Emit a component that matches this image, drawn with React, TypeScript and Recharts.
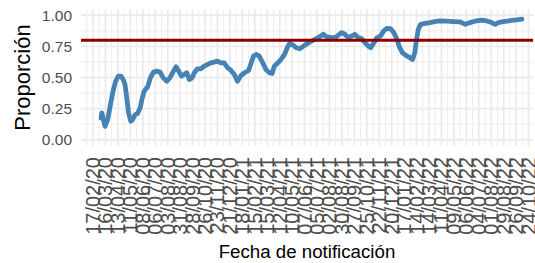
import { LineChart, Line, XAxis, YAxis, CartesianGrid, ReferenceLine } from 'recharts'

// semanas notificadas y proporción observada
const fechas = [
  '2020-03-06', '2020-03-08', '2020-03-15', '2020-03-21', '2020-03-28', '2020-04-02', '2020-04-08', '2020-04-14',
  '2020-04-20', '2020-04-25', '2020-04-29', '2020-05-03', '2020-05-07', '2020-05-12', '2020-05-16', '2020-05-22',
  '2020-05-27', '2020-06-02', '2020-06-06', '2020-06-11', '2020-06-19', '2020-06-25', '2020-07-02', '2020-07-09',
  '2020-07-17', '2020-07-24', '2020-08-01', '2020-08-08', '2020-08-14', '2020-08-22', '2020-08-28', '2020-09-03',
  '2020-09-09', '2020-09-15', '2020-09-21', '2020-09-27', '2020-10-02', '2020-10-09', '2020-10-17', '2020-10-24',
  '2020-11-01', '2020-11-08', '2020-11-16', '2020-11-23', '2020-12-01', '2020-12-08', '2020-12-16', '2020-12-23',
  '2020-12-31', '2021-01-07', '2021-01-15', '2021-01-23', '2021-02-01', '2021-02-07', '2021-02-12', '2021-02-19',
  '2021-02-25', '2021-03-05', '2021-03-12', '2021-03-20', '2021-03-26', '2021-03-31', '2021-04-08', '2021-04-15',
  '2021-04-23', '2021-04-30', '2021-05-05', '2021-05-13', '2021-05-19', '2021-05-27', '2021-06-07', '2021-06-19',
  '2021-06-30', '2021-07-11', '2021-07-19', '2021-07-26', '2021-08-07', '2021-08-14', '2021-08-22', '2021-08-29',
  '2021-09-06', '2021-09-13', '2021-09-21', '2021-09-28', '2021-10-06', '2021-10-13', '2021-10-21', '2021-10-28',
  '2021-11-03', '2021-11-10', '2021-11-17', '2021-11-25', '2021-12-02', '2021-12-10', '2021-12-17', '2021-12-25',
  '2022-01-01', '2022-01-07', '2022-01-13', '2022-01-21', '2022-01-30', '2022-02-05', '2022-02-10', '2022-02-14',
  '2022-02-18', '2022-02-23', '2022-03-05', '2022-03-16', '2022-03-27', '2022-04-08', '2022-04-23', '2022-05-08',
  '2022-05-23', '2022-06-04', '2022-06-14', '2022-06-25', '2022-07-10', '2022-07-22', '2022-08-02', '2022-08-10',
  '2022-08-17', '2022-08-28', '2022-09-09', '2022-09-20', '2022-09-27', '2022-10-09',
]

const proporcion = [
  0.175, 0.215, 0.108, 0.161, 0.296, 0.39, 0.47, 0.511,
  0.511, 0.484, 0.444, 0.336, 0.215, 0.148, 0.161, 0.202,
  0.21, 0.255, 0.323, 0.39, 0.425, 0.497, 0.543, 0.551,
  0.543, 0.497, 0.47, 0.497, 0.538, 0.586, 0.551, 0.511,
  0.524, 0.538, 0.484, 0.497, 0.538, 0.57, 0.57, 0.591,
  0.605, 0.618, 0.624, 0.632, 0.618, 0.618, 0.578, 0.559,
  0.524, 0.47, 0.516, 0.538, 0.556, 0.618, 0.672, 0.685,
  0.672, 0.618, 0.565, 0.538, 0.532, 0.591, 0.618, 0.645,
  0.685, 0.747, 0.774, 0.758, 0.739, 0.731, 0.758, 0.785,
  0.806, 0.828, 0.847, 0.828, 0.82, 0.82, 0.839, 0.86,
  0.847, 0.82, 0.833, 0.847, 0.82, 0.812, 0.78, 0.753,
  0.739, 0.78, 0.82, 0.833, 0.874, 0.895, 0.892, 0.86,
  0.806, 0.739, 0.699, 0.677, 0.659, 0.645, 0.699, 0.806,
  0.887, 0.927, 0.935, 0.941, 0.949, 0.954, 0.952, 0.949,
  0.946, 0.927, 0.941, 0.952, 0.96, 0.954, 0.941, 0.927,
  0.941, 0.949, 0.954, 0.96, 0.962, 0.968,
]

const etiquetasX = [
  '17/02/20', '16/03/20', '13/04/20', '11/05/20', '08/06/20', '06/07/20', '03/08/20', '31/08/20', '28/09/20',
  '26/10/20', '23/11/20', '21/12/20', '18/01/21', '15/02/21', '15/03/21', '12/04/21', '10/05/21', '07/06/21',
  '05/07/21', '02/08/21', '30/08/21', '27/09/21', '25/10/21', '22/11/21', '20/12/21', '17/01/22', '14/02/22',
  '14/03/22', '11/04/22', '09/05/22', '06/06/22', '04/07/22', '01/08/22', '29/08/22', '26/09/22', '24/10/22',
]

const ticksY = [0, 0.25, 0.5, 0.75, 1]
const ticksYMenores = [0.125, 0.375, 0.625, 0.875]
const META = 0.8

const DAY = 86400000
const FONT = '"Liberation Sans", Arial, sans-serif'
const GRID = '#EBEBEB'

const parseIso = (s: string) => Date.parse(s + 'T00:00:00Z')
const parseEtiqueta = (s: string) => {
  const [d, m, y] = s.split('/').map(Number)
  return Date.UTC(2000 + y, m - 1, d)
}
const pad = (n: number) => String(n).padStart(2, '0')
const formatFecha = (t: number) => {
  const d = new Date(t)
  return `${pad(d.getUTCDate())}/${pad(d.getUTCMonth() + 1)}/${pad(d.getUTCFullYear() % 100)}`
}

const data = fechas.map((f, i) => ({ t: parseIso(f), p: proporcion[i] }))
const ticksX = etiquetasX.map(parseEtiqueta)
const dominioX: [number, number] = [ticksX[0] - 27 * DAY, ticksX[0] + 990 * DAY]
const ticksXMenores = [ticksX[0] - 14 * DAY, ...ticksX.map((t) => t + 14 * DAY)].filter(
  (t) => t > dominioX[0] && t < dominioX[1],
)

function XTick({ x, y, payload }: { x?: number; y?: number; payload?: { value: number } }) {
  if (x == null || y == null || !payload) return null
  return (
    <text
      transform={`translate(${x},${y + 9}) rotate(-90)`}
      textAnchor="end"
      dy="0.35em"
      fontSize={20}
      fontFamily={FONT}
      fill="#4D4D4D"
    >
      {formatFecha(payload.value)}
    </text>
  )
}

export default function App() {
  return (
    <div style={{ position: 'absolute', left: 0, top: 0, width: 535, height: 263, background: '#fff' }}>
      <LineChart width={535} height={263} data={data} margin={{ top: 9, right: 2, bottom: 0, left: 0 }}>
        <CartesianGrid
          stroke={GRID}
          strokeWidth={0.9}
          horizontalValues={ticksYMenores}
          verticalValues={ticksXMenores}
        />
        <CartesianGrid stroke={GRID} strokeWidth={1.8} horizontalValues={ticksY} verticalValues={ticksX} />
        <XAxis
          dataKey="t"
          type="number"
          domain={dominioX}
          ticks={ticksX}
          interval={0}
          allowDataOverflow
          tick={<XTick />}
          tickLine={false}
          axisLine={false}
          tickSize={0}
          height={117}
          label={{
            content: ({ viewBox }: any) => (
              <text
                x={viewBox.x + viewBox.width / 2}
                y={258}
                textAnchor="middle"
                fontSize={18.7}
                fontFamily={FONT}
                fill="#000"
              >
                Fecha de notificación
              </text>
            ),
          }}
        />
        <YAxis
          type="number"
          domain={[-0.05, 1.05]}
          ticks={ticksY}
          interval={0}
          allowDataOverflow
          width={81}
          tickLine={false}
          axisLine={false}
          tickSize={0}
          tickMargin={9}
          tickFormatter={(v: number) => v.toFixed(2)}
          tick={{ fontSize: 15.5, fill: '#4D4D4D', fontFamily: FONT }}
          label={{
            content: ({ viewBox }: any) => (
              <text
                transform={`translate(22,${viewBox.y + viewBox.height / 2}) rotate(-90)`}
                textAnchor="middle"
                dy="0.35em"
                fontSize={22}
                fontFamily={FONT}
                fill="#000"
              >
                Proporción
              </text>
            ),
          }}
        />
        <Line
          type="linear"
          dataKey="p"
          stroke="#4682B4"
          strokeWidth={4.8}
          strokeLinejoin="round"
          strokeLinecap="round"
          dot={false}
          activeDot={false}
          isAnimationActive={false}
        />
        <ReferenceLine y={META} stroke="#8B0000" strokeWidth={3} />
      </LineChart>
    </div>
  )
}
